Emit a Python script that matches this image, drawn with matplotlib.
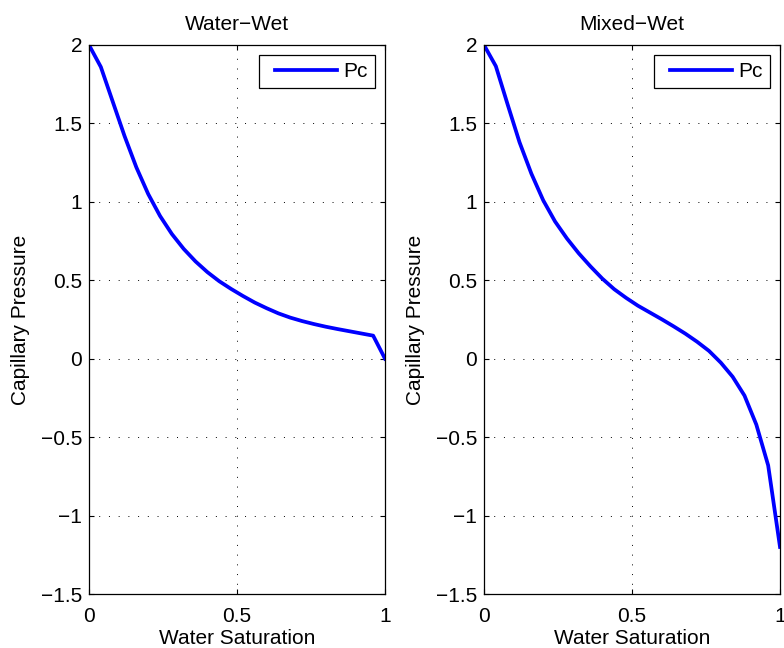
import matplotlib
matplotlib.use("Agg")
import matplotlib.pyplot as plt
from matplotlib.legend_handler import HandlerLine2D
from matplotlib.ticker import FuncFormatter

# Water saturation sample points (shared by both curves)
sw = [0.00, 0.04, 0.08, 0.12, 0.16, 0.20, 0.24, 0.28, 0.32, 0.36, 0.40, 0.44, 0.48,
      0.52, 0.56, 0.60, 0.64, 0.68, 0.72, 0.76, 0.80, 0.84, 0.88, 0.92, 0.96, 1.00]

# Capillary pressure, water-wet rock
pc_water_wet = [2.00, 1.86, 1.64, 1.42, 1.22, 1.05, 0.91, 0.795, 0.70, 0.62, 0.552, 0.494, 0.445,
                0.40, 0.358, 0.322, 0.289, 0.262, 0.240, 0.221, 0.204, 0.189, 0.175, 0.161, 0.147, 0.00]

# Capillary pressure, mixed-wet rock
pc_mixed_wet = [2.00, 1.865, 1.62, 1.38, 1.18, 1.01, 0.875, 0.767, 0.672, 0.588, 0.51, 0.443, 0.388,
                0.338, 0.295, 0.252, 0.207, 0.16, 0.108, 0.05, -0.025, -0.115, -0.235, -0.42, -0.68, -1.20]

titles = ["Water\u2212Wet", "Mixed\u2212Wet"]
xticks = [0, 0.5, 1]
yticks = [-1.5, -1, -0.5, 0, 0.5, 1, 1.5, 2]

plt.rcParams["font.family"] = ["Liberation Sans", "DejaVu Sans"]
plt.rcParams["font.size"] = 15
plt.rcParams["axes.unicode_minus"] = True

W, H = 784, 648
fig = plt.figure(figsize=(W / 100, H / 100), dpi=100)
fig.patch.set_facecolor("white")


class InsetLine(HandlerLine2D):
    """Legend line drawn with some lead space before it."""
    def create_artists(self, legend, orig_handle, xdescent, ydescent, width, height,
                       fontsize, trans):
        lead = 0.12 * width
        return super().create_artists(legend, orig_handle, xdescent - lead, ydescent,
                                      width - lead, height, fontsize, trans)


def fmt(v, _):
    s = "%g" % v
    return s.replace("-", "\u2212")


lefts = [89, 484]
ax_w, ax_top, ax_bot = 296, 45, 594
for left, title, pc in zip(lefts, titles, [pc_water_wet, pc_mixed_wet]):
    ax = fig.add_axes([left / W, 1 - ax_bot / H, ax_w / W, (ax_bot - ax_top) / H])
    line, = ax.plot(sw, pc, color="#0000ff", lw=2.7, label="Pc")
    ax.set_xlim(0, 1)
    ax.set_ylim(-1.5, 2)
    ax.set_xticks(xticks)
    ax.set_yticks(yticks)
    ax.xaxis.set_major_formatter(FuncFormatter(fmt))
    ax.yaxis.set_major_formatter(FuncFormatter(fmt))
    ax.tick_params(direction="in", length=3.8, width=0.8, top=True, right=True,
                   colors="black", labelsize=15)
    ax.tick_params(axis="x", pad=9)
    ax.tick_params(axis="y", pad=5)
    ax.grid(True, color="black", linestyle=(0, (1, 9)), linewidth=0.7)
    for sp in ax.spines.values():
        sp.set_linewidth(0.9)
        sp.set_color("black")
    ax.set_title(title, fontsize=15, pad=11)
    ax.set_xlabel("Water Saturation", fontsize=15, labelpad=2.5)
    ax.set_ylabel("Capillary Pressure", fontsize=15)
    ax.yaxis.set_label_coords(-0.2, 0.5)
    leg = ax.legend(loc="upper right", fontsize=15, frameon=True, fancybox=False,
                    edgecolor="black", framealpha=1, borderpad=0.33, handlelength=3.4,
                    handletextpad=0.3, borderaxespad=0.5,
                    handler_map={line: InsetLine()})
    leg.get_frame().set_linewidth(0.9)

fig.savefig("out.png", dpi=100, facecolor="white")
